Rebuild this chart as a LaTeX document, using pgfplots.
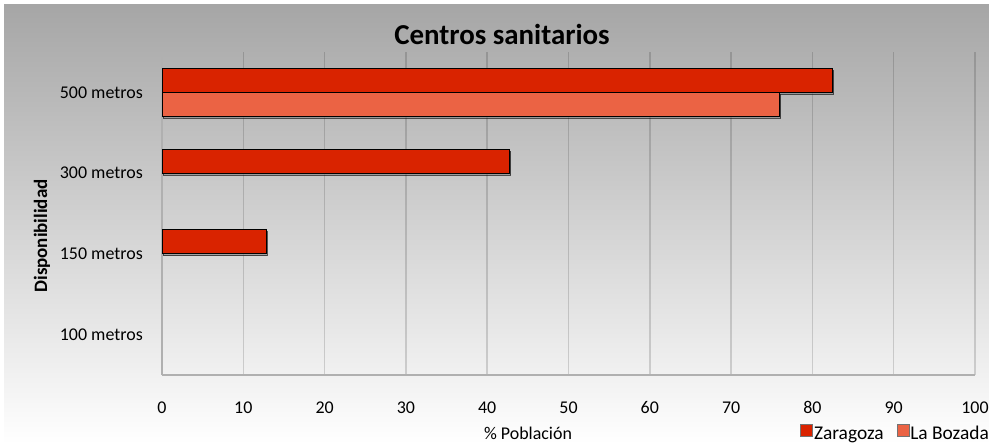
\documentclass[border=0pt]{standalone}
\usepackage{pgfplots}
\pgfplotsset{compat=1.18}
\usetikzlibrary{shadows}
\usepackage{fontspec}
\setmainfont{Carlito}
\definecolor{zaragoza}{RGB}{217,35,0}
\definecolor{bozada}{RGB}{235,99,68}
\definecolor{bgtop}{RGB}{166,166,166}
\definecolor{axisgray}{RGB}{176,176,176}
\newcommand{\lbl}{\fontsize{18}{21}\selectfont}
\begin{document}
\begin{tikzpicture}[x=1bp,y=1bp]
\useasboundingbox (0,0) rectangle (989,444);
\fill[white] (0,0) rectangle (989,444);
\shade[top color=bgtop, bottom color=white] (4,0) rectangle (989,439);
\node[anchor=base, font=\fontsize{29}{32}\selectfont\bfseries] at (502,399) {Centros sanitarios};
\begin{axis}[
  scale only axis, width=813bp, height=323bp,
  at={(162bp,69bp)}, anchor=south west,
  xbar, bar width=24bp,
  xmin=0, xmax=100, ymin=-0.5, ymax=3.5,
  xtick={0,10,...,100},
  ytick={0,1,2,3},
  yticklabels={100 metros,150 metros,300 metros,500 metros},
  major tick length=0pt,
  separate axis lines,
  axis x line*=bottom, axis y line*=left,
  axis line style={draw=axisgray, line width=1.5bp, -},
  xmajorgrids,
  major grid style={black, opacity=0.15, line width=1.5bp},
  /pgf/number format/assume math mode=true,
  tick label style={font=\lbl},
  xticklabel style={anchor=base, inner sep=0pt, yshift=-39bp},
  yticklabel style={anchor=east, inner sep=0pt, xshift=-19bp},
  legend style={at={(0.785,-0.150)}, anchor=north west, draw=none, fill=none,
    inner sep=0pt, font=\fontsize{19.5}{21}\selectfont, legend columns=2,
    /tikz/every even column/.append style={column sep=12bp},
    nodes={inner sep=1bp}},
  legend image code/.code={\draw[#1, line width=0.6bp] (0bp,-2bp) rectangle (12bp,10bp);},
  legend cell align=left,
]
\addplot[forget plot, fill=zaragoza, draw=black, line width=1bp, bar shift=12bp,
  drop shadow={shadow xshift=1bp, shadow yshift=-2bp, opacity=0.6}]
  coordinates {(82.5,3) (42.8,2) (12.8,1)};
\addplot[forget plot, fill=bozada, draw=black, line width=1bp, bar shift=-12bp,
  drop shadow={shadow xshift=1bp, shadow yshift=-2bp, opacity=0.6}]
  coordinates {(76.0,3)};
\addlegendimage{fill=zaragoza, draw=black!55}
\addlegendimage{fill=bozada, draw=black!55}
\legend{Zaragoza, La Bozada}
\end{axis}
\node[anchor=base, font=\lbl] at (528,4) {\% Población};
\node[anchor=base, rotate=90, font=\fontsize{19}{21}\selectfont\bfseries] at (47,208) {Disponibilidad};
\end{tikzpicture}
\end{document}
